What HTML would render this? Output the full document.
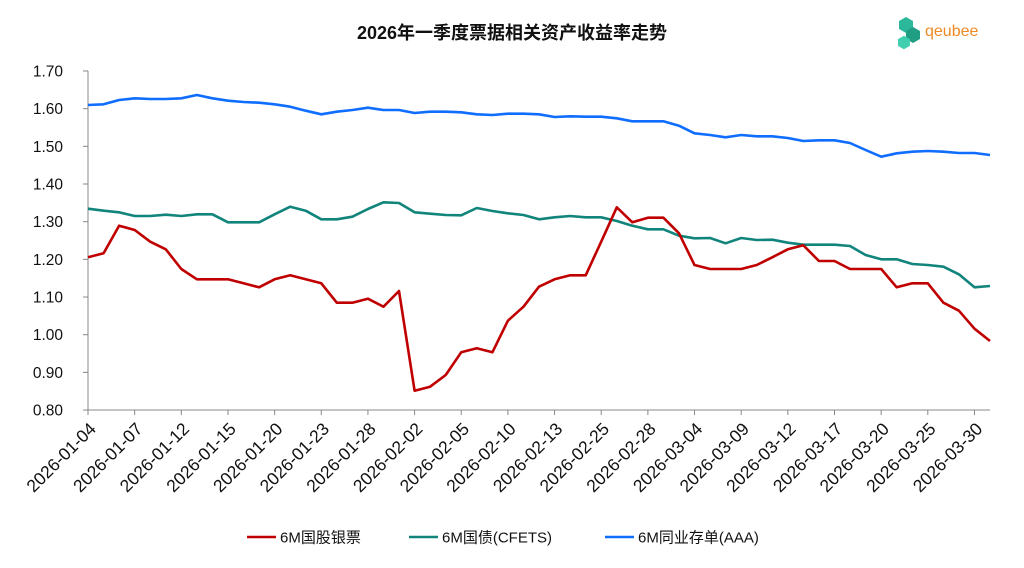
<!DOCTYPE html>
<html><head><meta charset="utf-8"><style>
body{margin:0;background:#fff;width:1024px;height:563px;overflow:hidden}
svg text{font-family:"Liberation Sans","Noto Sans CJK SC",sans-serif}
</style></head><body>
<svg id="s" width="1024" height="563" xmlns="http://www.w3.org/2000/svg">
<text x="512" y="39" text-anchor="middle" font-size="18" font-weight="bold" fill="#111">2026年一季度票据相关资产收益率走势</text>
<g transform="translate(898,17)">
<polygon points="8,0 15,4 15,12 8,16 1,12 1,4" fill="#2bb79a"/>
<polygon points="15,10 22,14 22,22 15,26 8,22 8,14" fill="#1f9e84"/>
<polygon points="5,18 12,22 12,30 5,34 -2,30 -2,22" fill="#3fcfae" transform="scale(0.85) translate(2,4)"/>
</g>
<text x="925" y="36" font-size="16" fill="#f08a24">qeubee</text>
<g id="ax"></g>
</svg>
<script>
const s=document.getElementById('ax');let h='';
const X=i=>88+i*15.552;
for(let k=0;k<10;k++){const y=71+k*37.67;h+=`<line x1="83" x2="88" y1="${y}" y2="${y}" stroke="#888"/><text x="63" y="${y+5.5}" text-anchor="end" font-size="15.5" fill="#111">${(1.7-k*0.1).toFixed(2)}</text>`;}
h+=`<line x1="88" y1="71" x2="88" y2="410" stroke="#888"/><line x1="88" y1="410" x2="990" y2="410" stroke="#888"/>`;
const L=['01-04','01-07','01-12','01-15','01-20','01-23','01-28','02-02','02-05','02-10','02-13','02-25','02-28','03-04','03-09','03-12','03-17','03-20','03-25','03-30'];
L.forEach((d,j)=>{const x=X(j*3);h+=`<line x1="${x}" x2="${x}" y1="410" y2="415" stroke="#888"/><text transform="translate(${x+9},${430}) rotate(-45)" text-anchor="end" font-size="17.5" fill="#111">2026-${d}</text>`;});
const red=[257.3,253.3,225.7,230,241.7,249.3,269,279.3,279.3,279.3,283.3,287.3,279.3,275.3,279.3,283.3,302.7,302.7,298.7,306.7,291,390.7,386.7,375,352.3,348.3,352.3,320.7,306.7,286.7,279.3,275.3,275.3,241.7,207.3,222.3,217.7,217.7,233.3,265,269,269,269,265,257.3,249.3,245.3,261,261,269,269,269,287.3,283.3,283.3,302.7,310.7,328.7,341];
const teal=[208.7,210.7,212.3,216,216,214.7,216,214.3,214.3,222.3,222.3,222.3,214.3,206.7,210.7,219.3,219.3,216.7,209,202.3,203,212.3,213.7,215,215.3,208,211,213.3,215,219.3,217.3,216,217.3,217.3,221,225.7,229.3,229.3,235.7,238.3,238,243.3,238,240,239.7,242.7,244.7,244.7,244.7,246,255,259.3,259.3,264,265,266.7,274.3,287.3,286];
const blue=[105,104.3,100,98.3,99,99,98.3,95,98.3,100.7,102,102.7,104.3,106.7,110.7,114.3,111.7,110,107.7,110,110,113,111.7,111.7,112.3,114.3,115,113.7,113.7,114.3,117,116.3,116.7,116.7,118.3,121.3,121.3,121.3,125.7,133.3,135,137.3,135,136.3,136.3,138,141,140.3,140.3,143,150,156.7,153.3,151.7,151,151.7,153,153,155];
const P=(a,c)=>`<polyline fill="none" stroke="${c}" stroke-width="2.6" stroke-linejoin="round" points="${a.map((y,i)=>X(i).toFixed(1)+','+y).join(' ')}"/>`;
h+=P(blue,'#0f6dff')+P(teal,'#11847c')+P(red,'#c00000');
const lg=[[247,'#c00000','6M国股银票'],[409,'#11847c','6M国债(CFETS)'],[605,'#0f6dff','6M同业存单(AAA)']];
lg.forEach(([x,c,t])=>{h+=`<line x1="${x}" x2="${x+29}" y1="537" y2="537" stroke="${c}" stroke-width="2.6"/><text x="${x+33}" y="542.5" font-size="15" fill="#111">${t}</text>`;});
s.innerHTML=h;
</script>
</body></html>
